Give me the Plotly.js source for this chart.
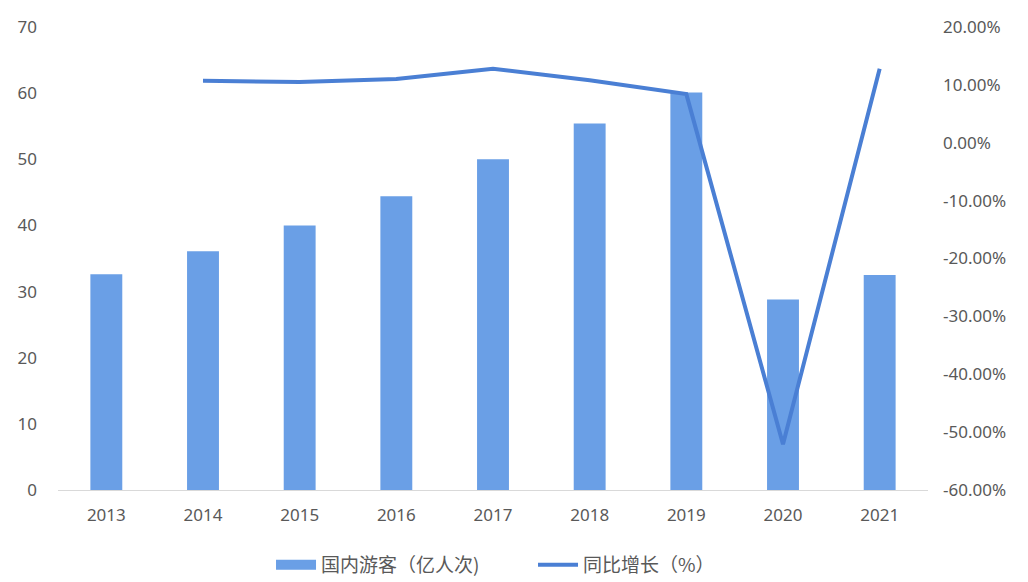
<!DOCTYPE html>
<html>
<head>
<meta charset="utf-8">
<script src="https://cdn.plot.ly/plotly-3.0.1.min.js"></script>
<style>html,body{margin:0;padding:0;background:#fff;}#chart{width:1028px;height:582px;}</style>
</head>
<body>
<div id="chart"></div>
<script>
const years = ['2013','2014','2015','2016','2017','2018','2019','2020','2021'];
const tourists = [32.6, 36.1, 40.0, 44.4, 50.0, 55.4, 60.1, 28.8, 32.5];
const growthYears = ['2014','2015','2016','2017','2018','2019','2020','2021'];
const growth = [10.7, 10.5, 11.0, 12.8, 10.8, 8.4, -52.1, 12.8];
const leftTicks = [0,10,20,30,40,50,60,70];
const rightTicks = [-60,-50,-40,-30,-20,-10,0,10,20];
const rightTickText = rightTicks.map(v => v.toFixed(2) + '%');
const barName = '国内游客（亿人次)';
const lineName = '同比增长（%）';

const font = {family: '"Noto Sans", "Noto Sans CJK SC", sans-serif', size: 17, color: '#595959'};
const barColor = '#6a9fe6';

const data = [
  {type:'scatter', mode:'lines', x:[years[0]], y:[null], name: barName, line:{color:barColor, width:10}, yaxis:'y', hoverinfo:'skip'},
  {type:'bar', x: years, y: tourists, name: barName, marker:{color:barColor}, width:0.33, yaxis:'y', showlegend:false},
  {type:'scatter', mode:'lines', x: growthYears, y: growth, name: lineName, line:{color:'#4a7fd4', width:4}, yaxis:'y2'}
];

const layout = {
  width:1028, height:582,
  margin:{l:58, r:100, t:27, b:92, autoexpand:false},
  paper_bgcolor:'#fff', plot_bgcolor:'#fff',
  font: font,
  showlegend:true,
  legend:{orientation:'h', x:0.546, xanchor:'center', y:-0.162, yanchor:'middle', itemwidth:40, entrywidth:207,
          font:{family:'"Noto Sans CJK SC", sans-serif', size:19, color:'#595959'}, traceorder:'normal'},
  xaxis:{type:'category', categoryarray: years, categoryorder:'array', showgrid:false, showline:true, linecolor:'#d9d9d9', linewidth:1, ticks:'', ticklabelstandoff:10, tickfont:font, zeroline:false},
  yaxis:{range:[0,70], tickvals:leftTicks, showgrid:false, zeroline:false, showline:false, ticks:'', ticklabelstandoff:20, tickfont:font},
  yaxis2:{overlaying:'y', side:'right', range:[-60,20], tickvals:rightTicks, ticktext:rightTickText, showgrid:false, zeroline:false, showline:false, ticks:'', ticklabelstandoff:14, tickfont:font}
};

Plotly.newPlot('chart', data, layout, {displayModeBar:false, staticPlot:true});
</script>
</body>
</html>
